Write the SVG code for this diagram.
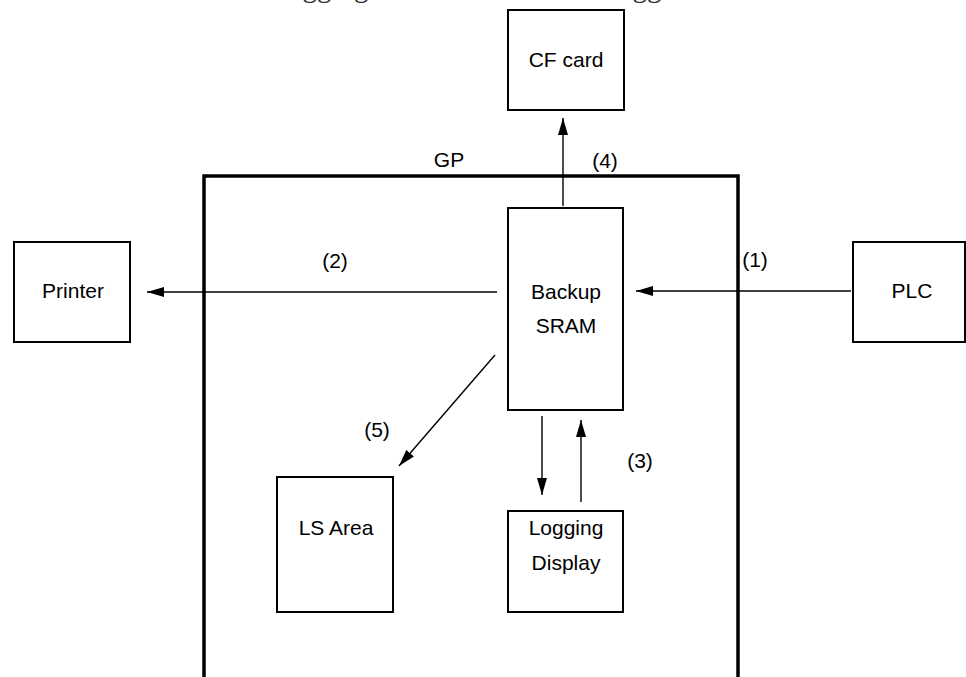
<svg xmlns="http://www.w3.org/2000/svg" width="966" height="677" viewBox="0 0 966 677">
<style>
.box{fill:#fff;stroke:#000;stroke-width:2}
.gp{fill:none;stroke:#000;stroke-width:3.5}
.lbl{font-family:"Liberation Sans",Arial,sans-serif;font-size:21px;fill:#000;text-anchor:middle}
.ttl{font-family:"Liberation Serif","Times New Roman",serif;font-size:29px;fill:#333}
.con line{stroke:#000;stroke-width:1.4;fill:none}
</style>
<defs>
<marker id="ah" viewBox="0 0 17 10" refX="17" refY="5" markerWidth="17" markerHeight="10" markerUnits="userSpaceOnUse" orient="auto">
<path d="M0,0 L17,5 L0,10 Z" fill="#000"/>
</marker>
</defs>
<rect width="966" height="677" fill="#fff"/>
<text class="ttl" x="280" y="-3">logging</text>
<text class="ttl" x="610" y="-3">logged</text>
<g id="gp">
<path class="gp" d="M204,677 L204,176 L738,176 L738,677"/>
<text class="lbl" x="449" y="167">GP</text>
</g>
<g id="cfcard">
<rect class="box" x="508" y="10" width="116" height="100"/>
<text class="lbl" x="566" y="67">CF card</text>
</g>
<g id="printer">
<rect class="box" x="14" y="242" width="116" height="100"/>
<text class="lbl" x="73" y="298">Printer</text>
</g>
<g id="plc">
<rect class="box" x="853" y="242" width="112" height="100"/>
<text class="lbl" x="912" y="298">PLC</text>
</g>
<g id="sram">
<rect class="box" x="508" y="208" width="115" height="202"/>
<text class="lbl" x="566" y="299">Backup</text>
<text class="lbl" x="566" y="333">SRAM</text>
</g>
<g id="lsarea">
<rect class="box" x="277" y="477" width="116" height="135"/>
<text class="lbl" x="336" y="535">LS Area</text>
</g>
<g id="logdisp">
<rect class="box" x="508" y="511" width="115" height="101"/>
<text class="lbl" x="566" y="535">Logging</text>
<text class="lbl" x="566" y="570">Display</text>
</g>
<g class="con" id="connectors">
<line x1="563" y1="206" x2="563" y2="118" marker-end="url(#ah)"/>
<line x1="497" y1="292" x2="147" y2="292" marker-end="url(#ah)"/>
<line x1="851" y1="291" x2="636" y2="291" marker-end="url(#ah)"/>
<line x1="495" y1="355" x2="399" y2="466" marker-end="url(#ah)"/>
<line x1="542" y1="416" x2="542" y2="495" marker-end="url(#ah)"/>
<line x1="581" y1="502" x2="581" y2="420" marker-end="url(#ah)"/>
<text class="lbl" x="605" y="168">(4)</text>
<text class="lbl" x="335" y="268">(2)</text>
<text class="lbl" x="755" y="267">(1)</text>
<text class="lbl" x="377" y="437">(5)</text>
<text class="lbl" x="640" y="468">(3)</text>
</g>
</svg>
